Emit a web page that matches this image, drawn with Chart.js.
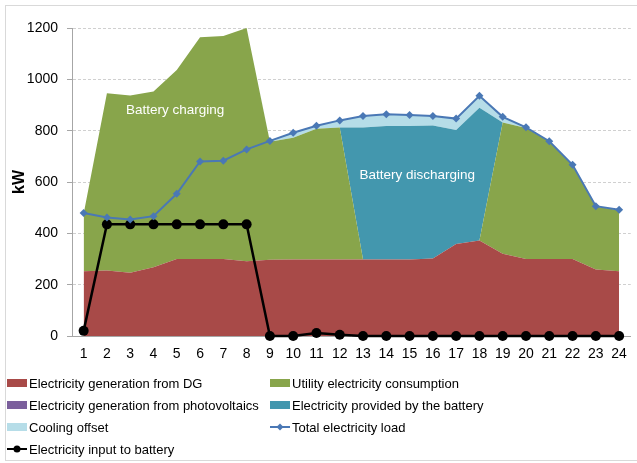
<!DOCTYPE html>
<html>
<head>
<meta charset="utf-8">
<script src="https://cdn.jsdelivr.net/npm/chart.js@4.4.1/dist/chart.umd.min.js"></script>
<style>
    body { margin: 0; background: #fff; }
    #frame { position: absolute; left: 5px; top: 5px; width: 640px; height: 454px; border: 1px solid #d9d9d9; }
    #wrap { position: absolute; left: 0; top: 0; }
    #legend { position: absolute; left: 0; top: 0; width: 637px; height: 463px; }
    .item { position: absolute; height: 20px; display: flex; align-items: center; font-family: "Liberation Sans", sans-serif; font-size: 13px; color: #000; white-space: nowrap; }
    .sw { width: 20px; height: 8px; margin-right: 2px; }
    .item svg { margin-right: 2px; }
</style>
</head>
<body>
<div id="frame"></div>
<div id="wrap"><canvas id="chart" width="637" height="370"></canvas></div>
<div id="legend"></div>
<script>
// Hourly data (kW)
const hours = ['1', '2', '3', '4', '5', '6', '7', '8', '9', '10', '11', '12',
    '13', '14', '15', '16', '17', '18', '19', '20', '21', '22', '23', '24'];

const dgGeneration = [252, 255, 246, 268, 300, 300, 300, 291, 297, 298, 298, 298,
    298, 298, 298, 302, 358, 372, 320, 300, 300, 300, 259, 252];
const pvGeneration = [0, 0, 0, 0, 0, 0, 0, 0, 0, 0, 0, 0,
    0, 0, 0, 0, 0, 0, 0, 0, 0, 0, 0, 0];
const utilityConsumption = [224, 691, 691, 685, 736, 864, 869, 909, 460, 474, 509, 514,
    0, 0, 0, 0, 0, 0, 512, 510, 458, 365, 246, 238];
const batteryProvided = [0, 0, 0, 0, 0, 0, 0, 0, 0, 0, 0, 0,
    514, 520, 520, 518, 445, 517, 0, 0, 0, 0, 0, 0];
const coolingOffset = [0, 0, 0, 0, 0, 0, 0, 0, 3, 20, 11, 28,
    45, 46, 43, 37, 44, 47, 22, 3, 0, 0, 0, 0];
const totalLoad = [479, 462, 454, 467, 554, 680, 683, 727, 760, 792, 819, 840,
    857, 864, 861, 857, 847, 936, 854, 813, 759, 667, 506, 492];
const batteryInput = [20, 435, 435, 435, 435, 435, 435, 435, 0, 0, 12, 5,
    0, 0, 0, 0, 0, 0, 0, 0, 0, 0, 0, 0];

const yTicks = [0, 200, 400, 600, 800, 1000, 1200];

// Text notes placed in data space (category index, kW)
const areaNotes = [
    { text: 'Battery charging', x: 3.93, y: 878 },
    { text: 'Battery discharging', x: 14.33, y: 628 }
];

const colors = {
    dg: '#A84A48',
    pv: '#7B5F9C',
    utility: '#88A54B',
    battery: '#4397AE',
    cooling: '#B6DDE8',
    load: '#4A78B5',
    input: '#000000'
};

function area(label, data, color, fill) {
    return {
        label: label,
        data: data,
        stack: 'areas',
        order: 1,
        fill: fill,
        backgroundColor: color,
        borderColor: 'rgba(0,0,0,0)',
        borderWidth: 0,
        pointRadius: 0,
        pointHoverRadius: 0,
        tension: 0
    };
}

const datasets = [
    area('Electricity generation from DG', dgGeneration, colors.dg, 'origin'),
    area('Electricity generation from photovoltaics', pvGeneration, colors.pv, '-1'),
    area('Utility electricity consumption', utilityConsumption, colors.utility, '-1'),
    area('Electricity provided by the battery', batteryProvided, colors.battery, '-1'),
    area('Cooling offset', coolingOffset, colors.cooling, '-1'),
    {
        label: 'Total electricity load',
        data: totalLoad,
        stack: 'load',
        order: 0,
        fill: false,
        borderColor: colors.load,
        backgroundColor: colors.load,
        borderWidth: 2,
        pointStyle: 'rectRot',
        pointRadius: 4,
        pointBorderWidth: 0,
        tension: 0,
        clip: false
    },
    {
        label: 'Electricity input to battery',
        data: batteryInput,
        stack: 'input',
        order: 0,
        fill: false,
        borderColor: colors.input,
        backgroundColor: colors.input,
        borderWidth: 2.5,
        pointStyle: 'circle',
        pointRadius: 5,
        pointBorderWidth: 0,
        tension: 0,
        clip: false
    }
];

const notesPlugin = {
    id: 'notes',
    afterDatasetsDraw(chart) {
        const ctx = chart.ctx;
        ctx.save();
        ctx.fillStyle = '#ffffff';
        ctx.font = '13.5px "Liberation Sans", sans-serif';
        ctx.textAlign = 'center';
        ctx.textBaseline = 'middle';
        areaNotes.forEach(n => {
            ctx.fillText(n.text, chart.scales.x.getPixelForValue(n.x), chart.scales.y.getPixelForValue(n.y));
        });
        ctx.restore();
    }
};

const tickFont = { family: '"Liberation Sans", sans-serif', size: 14 };

new Chart(document.getElementById('chart').getContext('2d'), {
    type: 'line',
    data: { labels: hours, datasets: datasets },
    plugins: [notesPlugin],
    options: {
        responsive: false,
        animation: false,
        events: [],
        layout: { padding: { left: 0, right: 5, top: 28, bottom: 0 } },
        plugins: {
            legend: { display: false },
            tooltip: { enabled: false }
        },
        scales: {
            x: {
                offset: true,
                grid: { display: false, drawTicks: false },
                border: { display: true, color: '#a6a6a6' },
                ticks: { color: '#000', font: tickFont, padding: 10, maxRotation: 0, autoSkip: false },
                afterFit: function (scale) { scale.height = 34; }
            },
            y: {
                stacked: true,
                min: 0,
                max: 1200,
                afterBuildTicks: function (scale) {
                    scale.ticks = yTicks.map(v => ({ value: v }));
                },
                grid: { color: '#d0d0d0', tickColor: '#a6a6a6', tickLength: 5, tickBorderDash: [] },
                border: { display: true, color: '#a6a6a6', dash: [3, 2] },
                ticks: {
                    color: '#000', font: tickFont, padding: 9,
                    callback: function (value) { return String(value); }
                },
                title: { display: true, text: 'kW', color: '#000', font: { family: '"Liberation Sans", sans-serif', size: 16, weight: 'bold' }, padding: { top: 10, bottom: 0 } },
                afterFit: function (scale) { scale.width = 72; }
            }
        }
    }
});

// Legend laid out in two columns like the original
const legendSlots = [
    { ds: 0, x: 7, y: 383 }, { ds: 2, x: 270, y: 383 },
    { ds: 1, x: 7, y: 405 }, { ds: 3, x: 270, y: 405 },
    { ds: 4, x: 7, y: 427 }, { ds: 5, x: 270, y: 427 },
    { ds: 6, x: 7, y: 449 }
];

const legend = document.getElementById('legend');
legendSlots.forEach(slot => {
    const ds = datasets[slot.ds];
    const item = document.createElement('div');
    item.className = 'item';
    item.style.left = slot.x + 'px';
    item.style.top = (slot.y - 10) + 'px';
    let icon;
    if (ds.fill === false) {
        const marker = ds.pointStyle === 'circle'
            ? `<circle cx="10" cy="5" r="3.5" fill="${ds.borderColor}"/>`
            : `<rect x="7.5" y="2.5" width="5" height="5" fill="${ds.borderColor}" transform="rotate(45 10 5)"/>`;
        icon = `<svg width="20" height="10"><line x1="0" y1="5" x2="20" y2="5" stroke="${ds.borderColor}" stroke-width="2"/>${marker}</svg>`;
    } else {
        icon = `<div class="sw" style="background:${ds.backgroundColor}"></div>`;
    }
    item.innerHTML = icon + '<span>' + ds.label + '</span>';
    legend.appendChild(item);
});
</script>
</body>
</html>
